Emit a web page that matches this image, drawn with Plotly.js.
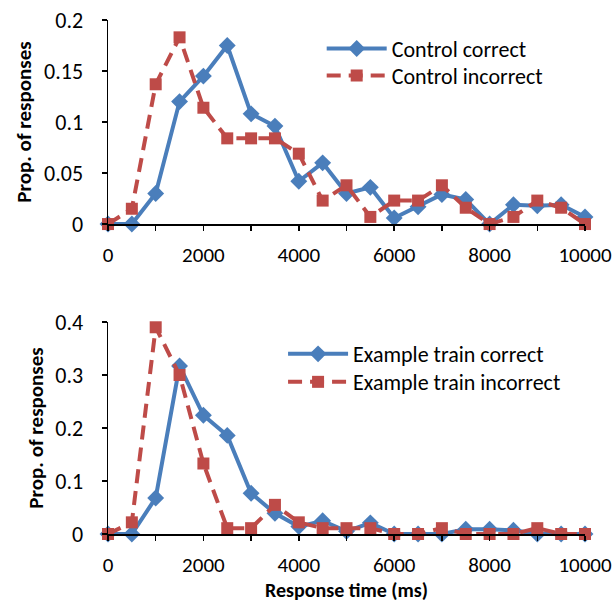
<!DOCTYPE html>
<html><head><meta charset="utf-8">
<script src="https://cdn.plot.ly/plotly-3.0.1.min.js"></script>
<style>html,body{margin:0;padding:0;background:#fff}</style>
</head><body><div id="chart" style="width:612px;height:606px"></div>
<script>
const times = [0,500,1000,1500,2000,2500,3000,3500,4000,4500,5000,5500,6000,6500,7000,7500,8000,8500,9000,9500,10000];
const controlCorrect =   [0,0,0.03,0.12,0.145,0.175,0.108,0.096,0.042,0.06,0.03,0.036,0.006,0.017,0.029,0.024,0,0.019,0.018,0.019,0.007];
const controlIncorrect = [0,0.015,0.137,0.183,0.114,0.084,0.084,0.084,0.069,0.023,0.038,0.007,0.023,0.023,0.038,0.016,0,0.007,0.023,0.016,0];
const exampleCorrect =   [0,0,0.068,0.317,0.224,0.186,0.077,0.039,0.014,0.025,0.005,0.021,0,0,0,0.009,0.009,0.007,0,0,0];
const exampleIncorrect = [0,0.022,0.39,0.30,0.133,0.011,0.011,0.055,0.022,0.011,0.011,0.011,0,0,0.011,0,0,0,0.011,0,0];
const names = ["Control correct","Control incorrect","Example train correct","Example train incorrect"];

const FONT = "Carlito, Calibri, 'Liberation Sans', Arial, sans-serif";
const BLUE = "#4A7EBB", RED = "#BE4B48";

function correct(y, name, xa, ya, leg){
  return {x: times, y: y, name: name, xaxis: xa, yaxis: ya, legend: leg, type: "scatter", mode: "lines+markers",
    line: {color: BLUE, width: 4}, marker: {symbol: "diamond", size: 13, color: BLUE}, cliponaxis: false};
}
function incorrect(y, name, xa, ya, leg){
  return {x: times, y: y, name: name, xaxis: xa, yaxis: ya, legend: leg, type: "scatter", mode: "lines+markers",
    line: {color: RED, width: 4, dash: "14px,8px"}, marker: {symbol: "square", size: 12, color: RED}, cliponaxis: false};
}
const data = [
  correct(controlCorrect, names[0], "x", "y", "legend"),
  incorrect(controlIncorrect, names[1], "x", "y", "legend2"),
  correct(exampleCorrect, names[2], "x2", "y2", "legend3"),
  incorrect(exampleIncorrect, names[3], "x2", "y2", "legend4")
];
const xbase = {range: [0, 10000], dtick: 2000, tick0: 0, tickformat: "d", showgrid: false, zeroline: false, showline: true, linecolor: "#000", linewidth: 1.5,
  ticks: "outside", ticklen: 5, tickcolor: "#000", tickwidth: 1.5, ticklabelstandoff: 6, ticklabeloverflow: "allow",
  tickfont: {family: FONT, size: 21, color: "#000"},
  minor: {dtick: 1000, ticks: "outside", ticklen: 5, tickcolor: "#000", tickwidth: 1.5, showgrid: false}};
const ybase = {showgrid: false, zeroline: false, showline: true, linecolor: "#000", linewidth: 1.5,
  ticks: "outside", ticklen: 5, tickcolor: "#000", tickwidth: 1.5, ticklabelstandoff: 14,
  tickfont: {family: FONT, size: 22, color: "#000"},
  title: {text: "<b>Prop. of responses</b>", font: {family: FONT, size: 21, color: "#000"}, standoff: 6}};
function leg(y){
  return {x: 0.448, y: y, xanchor: "left", yanchor: "top", bgcolor: "rgba(0,0,0,0)",
    font: {family: FONT, size: 22, color: "#000"}, itemwidth: 60};
}
const layout = {
  width: 612, height: 606, margin: {l: 108, r: 27, t: 20, b: 72},
  paper_bgcolor: "#fff", plot_bgcolor: "#fff", showlegend: true,
  font: {family: FONT, color: "#000"},
  xaxis: Object.assign({}, xbase, {domain: [0, 1], anchor: "y"}),
  yaxis: Object.assign({}, ybase, {domain: [0.603, 1], range: [0, 0.2], dtick: 0.05, anchor: "x"}),
  xaxis2: Object.assign({}, xbase, {domain: [0, 1], anchor: "y2",
    title: {text: "<b>Response time (ms)</b>", font: {family: FONT, size: 20, color: "#000"}, standoff: 4}}),
  yaxis2: Object.assign({}, ybase, {domain: [0, 0.4125], range: [0, 0.4], dtick: 0.1, anchor: "x2"}),
  legend: leg(0.985),
  legend2: leg(0.9325),
  legend3: Object.assign(leg(0.391), {x: 0.367}),
  legend4: Object.assign(leg(0.3365), {x: 0.367})
};
Plotly.newPlot("chart", data, layout, {displayModeBar: false, staticPlot: true});
</script></body></html>
